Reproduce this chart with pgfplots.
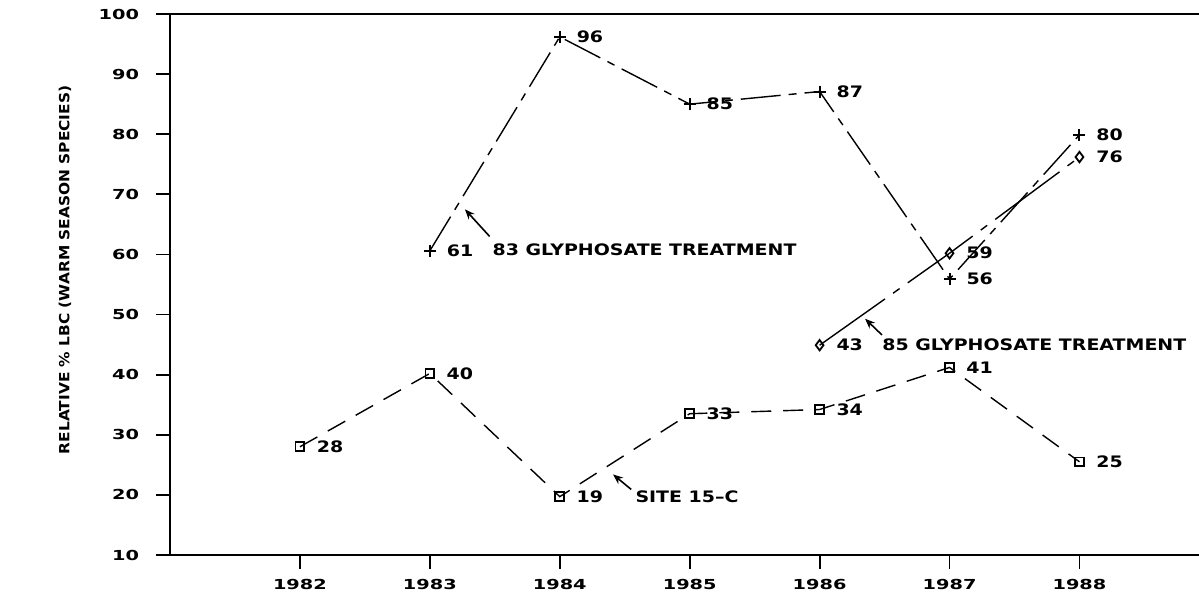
\documentclass[border=0pt]{standalone}
\usepackage{fontspec}
\usepackage{pgfplots}
\usepackage{pgfplotstable}
\pgfplotsset{compat=1.18}
\usetikzlibrary{calc,arrows.meta}
\setmainfont{DejaVu Sans}
\newfontfamily\tickfont{DejaVu Sans}[FakeStretch=1.4]
\newfontfamily\lblfont{DejaVu Sans}[FakeStretch=1.2]
\newfontfamily\ylfont{DejaVu Sans}[FakeStretch=1.1]

\pgfplotstableread{
x y lab
1983 60.6 61
1984 96.2 96
1985 85.0 85
1986 87.1 87
1987 55.9 56
1988 79.9 80
}\plusdata
\pgfplotstableread{
x y lab
1986 44.9 43
1987 60.2 59
1988 76.2 76
}\diamdata
\pgfplotstableread{
x y lab
1982 28.0 28
1983 40.2 40
1984 19.7 19
1985 33.5 33
1986 34.2 34
1987 41.2 41
1988 25.5 25
}\sqdata

\begin{document}
\begin{tikzpicture}
\begin{axis}[name=ax, scale only axis, width=514.5pt, height=270.5pt,
  xmin=1981, xmax=1988.92, ymin=10, ymax=100,
  axis x line*=bottom, axis y line*=left,
  axis line style={line width=0.9pt},
  xtick={1982,1983,1984,1985,1986,1987,1988},
  xticklabels={1982,1983,1984,1985,1986,1987,1988},
  ytick={10,20,30,40,50,60,70,80,90,100},
  tick align=outside, major tick length=7pt,
  tick style={line width=0.9pt, black},
  /pgf/number format/assume math mode=true,
  xticklabel style={font=\tickfont\bfseries\fontsize{6.9}{7}\selectfont, yshift=-1.5pt},
  yticklabel style={font=\tickfont\bfseries\fontsize{6.9}{7}\selectfont, xshift=-5pt},
  ylabel={RELATIVE \% LBC (WARM SEASON SPECIES)},
  every axis y label/.style={at={(axis description cs:-0.102,0.527)}, rotate=90, anchor=center,
     font=\ylfont\bfseries\fontsize{7}{8}\selectfont},
  clip=false,
  point meta=explicit symbolic,
  nodes near coords={\pgfplotspointmeta},
  every node near coord/.style={anchor=west, xshift=7pt, inner sep=1pt,
     font=\lblfont\bfseries\fontsize{7.9}{9}\selectfont},
]
\addplot[black, line width=0.7pt, dash pattern=on 20pt off 4pt on 4pt off 4pt,
   mark=+, mark size=3pt, mark options={solid, line width=1pt}]
   table[x=x, y=y, meta=lab] {\plusdata};
\addplot[black, line width=0.7pt, dash pattern=on 40pt off 5pt on 4pt off 5pt,
   mark=diamond, mark size=2.6pt, mark options={solid, line width=0.9pt}]
   table[x=x, y=y, meta=lab] {\diamdata};
\addplot[black, line width=0.7pt, dash pattern=on 10pt off 6pt,
   mark=square, mark size=2.2pt, mark options={solid, line width=0.9pt}]
   table[x=x, y=y, meta=lab] {\sqdata};

\draw[line width=0.9pt] (rel axis cs:0,1) -- (rel axis cs:1,1);

\node[anchor=west, inner sep=0pt, font=\lblfont\bfseries\fontsize{7.9}{9}\selectfont]
  at (axis cs:1983.48,60.8) {83 GLYPHOSATE TREATMENT};
\draw[line width=0.8pt, -{Stealth[length=5pt,width=4pt]}] (axis cs:1983.46,63.0) -- (axis cs:1983.27,67.5);
\node[anchor=west, inner sep=0pt, font=\lblfont\bfseries\fontsize{7.9}{9}\selectfont]
  at (axis cs:1986.48,44.9) {85 GLYPHOSATE TREATMENT};
\draw[line width=0.8pt, -{Stealth[length=5pt,width=4pt]}] (axis cs:1986.48,46.6) -- (axis cs:1986.35,49.3);
\node[anchor=west, inner sep=0pt, font=\lblfont\bfseries\fontsize{7.9}{9}\selectfont]
  at (axis cs:1984.58,19.7) {SITE 15–C};
\draw[line width=0.8pt, -{Stealth[length=5pt,width=4pt]}] (axis cs:1984.55,20.9) -- (axis cs:1984.41,23.4);
\end{axis}
\pgfresetboundingbox
\path ($(ax.south west)+(-85pt,-21.5pt)$) rectangle ($(ax.north east)+(0pt,7pt)$);
\end{tikzpicture}
\end{document}
